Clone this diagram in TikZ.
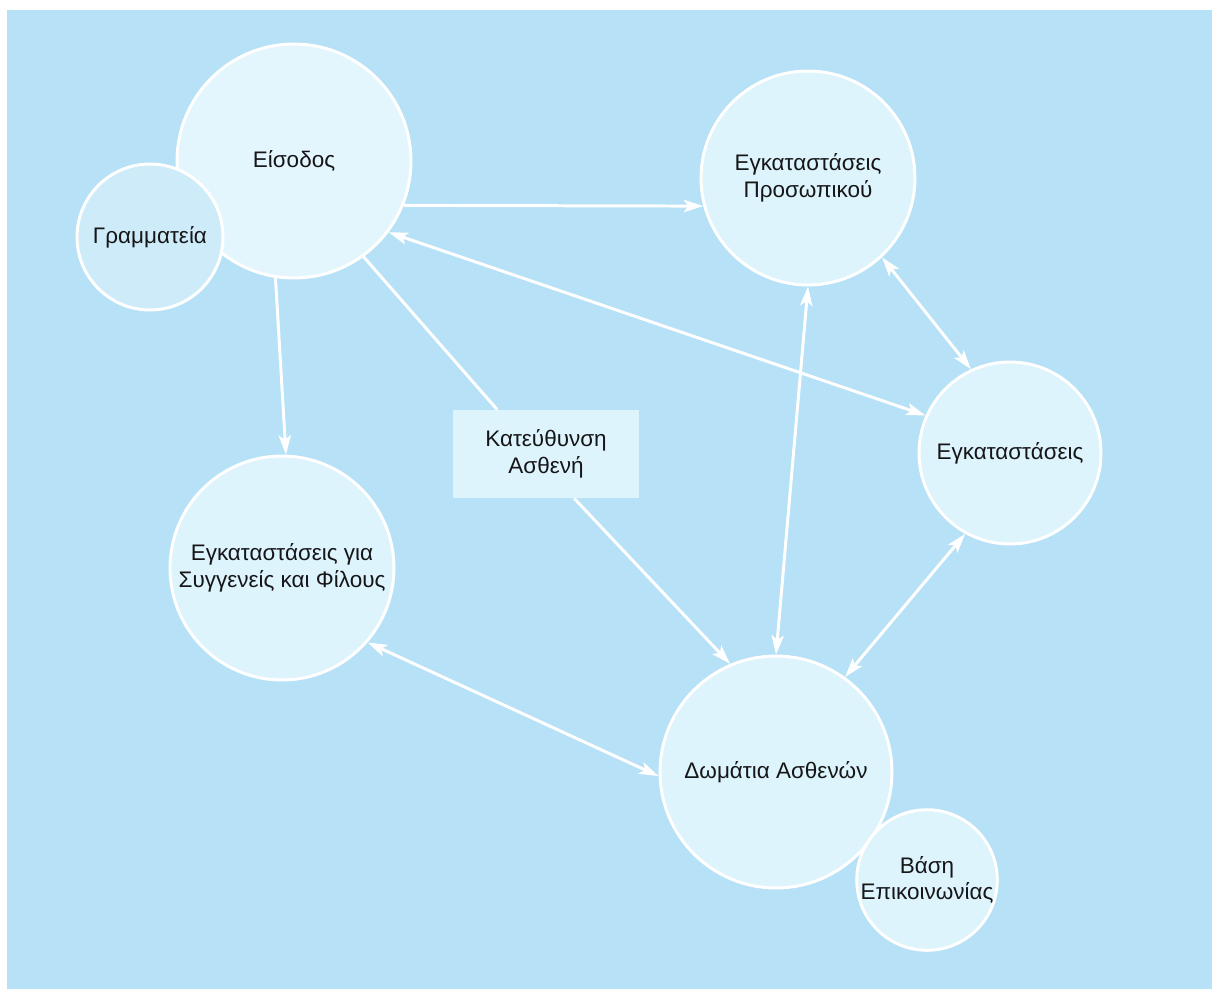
\documentclass[tikz,border=0pt]{standalone}
\usepackage{fontspec}
\setmainfont{Liberation Sans}
\usetikzlibrary{calc,arrows.meta}
\definecolor{paper}{RGB}{182,225,246}
\definecolor{bubble}{RGB}{221,244,252}
\definecolor{bubbledk}{RGB}{206,235,250}
\definecolor{ink}{RGB}{22,22,24}

\begin{document}
\begin{tikzpicture}[x=0.02cm,y=-0.02cm,font=\fontsize{12.8}{15}\selectfont,
  every node/.style={inner sep=0pt,text=ink,align=center},
  area/.style={circle,draw=white,line width=1.7pt,fill=bubble},
  desk/.style={rectangle,fill=bubble,minimum width=3.74cm,minimum height=1.76cm},
  link/.style={draw=white,line width=1.7pt,-{Stealth[length=11pt,width=7pt,inset=2.5pt]}},
  both/.style={link,{Stealth[length=11pt,width=7pt,inset=2.5pt]}-{Stealth[length=11pt,width=7pt,inset=2.5pt]}}]
  \useasboundingbox (0,0) rectangle (1212,988);
  \fill[white] (-5,-5) rectangle (1220,995);
  \fill[paper] (7,10) rectangle (1220,995);
  \node[area,minimum size=4.68cm,fill=bubble!80!white] (eis) at (294,161) {Είσοδος};
  \node[area,minimum size=2.92cm,fill=bubbledk] (gram) at (150,237) {Γραμματεία};
  \node[area,minimum size=4.28cm] (prosw) at (808,178) {Εγκαταστάσεις\\Προσωπικού};
  \node[area,minimum size=3.64cm] (egk) at (1010,453) {Εγκαταστάσεις};
  \node[area,minimum size=4.48cm] (syg) at (282,568) {Εγκαταστάσεις για\\Συγγενείς και Φίλους};
  \node[desk] (kat) at (546,454) {Κατεύθυνση\\Ασθενή};
  \node[area,minimum size=4.64cm] (dom) at (776,772) {Δωμάτια Ασθενών};
  \node[area,minimum size=2.8cm] (vasi) at (927,880) {Βάση\\Επικοινωνίας};
  \draw[link] (eis.-22) -- (prosw.-165.4);
  \draw[both] (egk.156) -- (eis.-37);
  \draw[link] (eis.-99) -- (syg.88);
  \draw[link,-] (eis.-54) -- ($(kat.north west)!0.24!(kat.north east)$);
  \draw[link] ($(kat.south west)!0.65!(kat.south east)$) -- (dom.113);
  \draw[both] (dom.90) -- (prosw.-90);
  \draw[both] (prosw.-47) -- (egk.115);
  \draw[both] (egk.-119) -- (dom.54);
  \draw[both] (syg.-41) -- (dom.-178);
\end{tikzpicture}
\end{document}
